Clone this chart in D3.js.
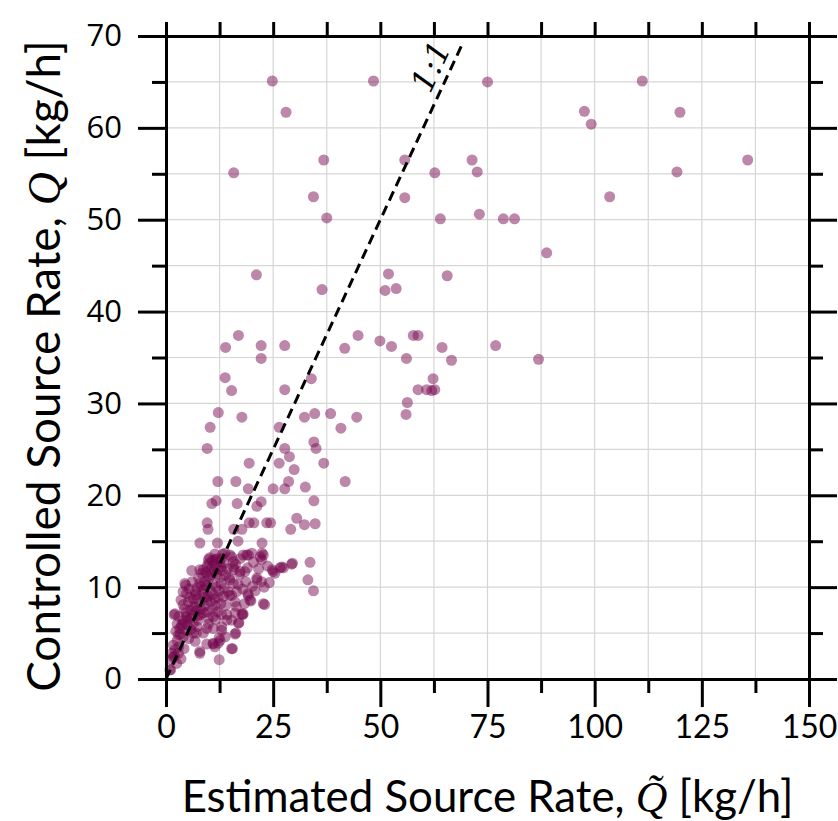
<!DOCTYPE html>
<html>
<head>
<meta charset="utf-8">
<script src="https://cdn.jsdelivr.net/npm/d3@7"></script>
<style>
  body { margin: 0; background: #fff; }
</style>
</head>
<body>
<div id="chart"></div>
<script>
// tick values
const xTicks = [0, 25, 50, 75, 100, 125, 150];
const yTicks = [0, 10, 20, 30, 40, 50, 60, 70];

// points: [estimated, controlled] in kg/h
const upperPoints = [
  [24.8,65.1],[48.4,65.1],[75.0,65.0],[111.1,65.1],[28.0,61.7],[97.6,61.8],[99.2,60.4],[119.9,61.7],
  [36.8,56.5],[55.7,56.5],[71.4,56.5],[135.7,56.5],[15.8,55.1],[62.7,55.1],[72.6,55.2],[119.2,55.2],
  [34.4,52.5],[55.7,52.4],[103.5,52.5],[37.5,50.2],[64.0,50.1],[73.1,50.6],[78.7,50.1],[81.3,50.1],
  [88.8,46.4],[21.1,44.0],[51.9,44.1],[65.6,43.9],[36.4,42.4],[51.1,42.3],[53.7,42.5],
  [16.9,37.4],[13.9,36.1],[22.2,36.3],[27.7,36.3],[41.7,36.0],[44.8,37.4],[49.9,36.8],[52.6,36.2],
  [57.7,37.4],[58.8,37.4],[64.4,36.1],[66.6,34.7],[56.1,34.9],[22.2,34.9],[76.9,36.3],[86.9,34.8]
];

const middlePoints = [
  [13.8,32.8],[15.3,31.4],[27.7,31.5],[33.9,32.7],[62.3,32.7],[58.8,31.5],[60.8,31.5],[62.0,31.4],
  [62.7,31.5],[56.3,30.1],[56.0,28.8],[12.2,29.0],[17.7,28.5],[10.3,27.4],[9.6,25.1],[32.3,28.5],
  [34.7,28.9],[38.4,28.9],[44.5,28.5],[40.8,27.3],[26.4,27.4],[34.5,25.8],[35.0,25.1],[27.7,25.1],
  [28.8,24.2],[26.4,23.5],[36.8,23.5],[29.9,22.8],[19.4,23.5],[12.1,21.5],[16.3,21.5],[41.8,21.5],
  [19.2,20.7],[25.0,20.7],[27.7,20.7],[28.6,21.5],[32.5,20.9],[34.5,19.4],[10.7,19.1],[11.7,19.4],
  [16.6,19.1],[21.2,18.8],[22.2,19.3],[9.6,17.0],[9.8,16.3],[15.8,16.3],[17.7,16.3],[19.4,17.0],
  [20.5,17.0],[23.5,17.0],[24.4,17.0],[29.1,16.3],[30.5,17.5],[32.3,16.8],[34.8,16.9],
  [7.9,14.8],[12.0,14.8],[16.8,15.0],[22.4,14.8]
];

const clusterPoints = [
  [22.4,13.7],[13.8,13.7],[33.6,12.7],[33.1,10.8],[34.4,9.6],[29.5,12.6],[27.4,12.1],[26.6,12.1],
  [24.8,11.9],[25.4,11.5],[22.9,10.0],[23.0,8.1],[21.2,11.0],[19.8,8.5],[19.1,9.3],[17.9,7.0],
  [16.9,6.1],[16.3,5.0],[15.5,3.3],[12.4,2.1],[7.9,2.8],[12.4,4.5],[11.0,3.8],[9.5,3.8],[1.1,1.0],
  [1.7,3.7],[1.9,7.0],[4.6,10.2],[4.0,9.5],[6.0,11.8],[7.9,11.9],[8.7,11.9],[9.9,13.0],[22.7,13.5],
  [20.0,13.7],[18.8,13.5],[17.3,13.1],[15.9,11.9],[14.9,13.5],[14.8,9.1],[13.4,9.0],[17.7,7.1],
  [14.2,6.4],[13.0,5.7],[11.4,13.0],[8.3,11.5],[4.4,10.4],[4.8,9.3],[7.9,10.4],[6.8,9.5],[9.5,8.6],
  [4.0,8.1],[6.4,7.9],[15.3,13.3],[18.0,13.5],[19.2,13.5],[22.0,13.3],[22.3,13.0],[15.7,12.8],
  [25.0,11.7],[27.0,12.2],[29.3,12.5],[17.3,11.7],[18.4,11.7],[15.7,12.2],[21.2,10.8],[22.3,10.6],
  [14.9,10.8],[15.7,10.4],[16.5,9.5],[19.2,9.1],[19.6,8.6],[22.7,8.2],[15.3,9.1],[16.1,8.4],
  [2.1,7.1],[4.8,6.8],[4.0,6.4],[5.6,6.6],[8.7,7.2],[9.9,6.6],[11.0,6.8],[13.0,7.0],[14.2,7.0],
  [9.5,5.5],[11.0,5.5],[8.7,5.0],[13.0,5.3],[13.8,4.6],[12.6,4.2],[12.2,3.9],[11.0,3.9],[11.4,3.5],
  [7.9,3.0],[2.1,3.2],[2.9,2.8],[1.7,2.4],[1.3,2.1],[2.5,1.7],[0.9,1.0],[2.9,4.8],[4.0,4.6],[4.8,5.3],
  [6.4,5.0],[7.2,5.7],[6.4,6.1],[7.5,6.4],[16.1,7.2],[18.0,7.1],[17.0,6.1],[15.3,6.4],[16.1,4.9],
  [15.3,3.3],[10.2,13.2],[10.8,12.9],[11.9,13.1],[12.5,12.8],[11.3,12.4],[12.8,12.2],[13.5,12.6],
  [10.5,12.0],[9.3,11.6],[11.8,11.4],[12.6,11.0],[13.9,11.3],[14.3,12.0],[10.0,10.9],[9.0,10.6],
  [10.9,10.3],[11.7,10.0],[12.9,10.4],[13.6,9.9],[8.2,10.1],[7.2,9.9],[6.1,10.6],[5.4,9.8],[7.0,9.2],
  [8.6,9.3],[9.8,9.0],[11.0,9.2],[12.2,8.9],[6.4,8.7],[5.2,8.4],[7.8,8.3],[9.0,8.0],[10.4,8.4],
  [11.5,8.0],[12.8,8.2],[13.9,8.0],[3.5,8.6],[4.3,7.6],[5.8,7.5],[7.0,7.4],[8.3,7.6],[9.6,7.3],
  [10.8,7.6],[12.0,7.3],[3.0,6.8],[6.2,6.9],[7.5,6.9],[11.6,6.5],[2.6,6.0],[3.6,5.8],[4.9,5.9],
  [5.8,5.4],[7.1,5.0],[9.9,6.0],[2.3,5.2],[3.3,4.9],[5.3,4.4],[6.8,4.1],[2.6,4.2],[1.3,2.8],[3.0,3.5],
  [4.2,3.3],[2.0,2.5],[3.5,2.2],[8.9,9.8],[7.6,11.0],[9.6,12.3],[13.2,13.6],[11.4,13.6],[14.8,11.0],
  [14.5,9.5],[16.8,10.3],[17.9,9.8],[18.6,10.6],[20.2,10.1],[16.2,12.5],[19.0,12.1],[20.4,12.7],
  [21.6,12.0],[23.7,12.3],[24.1,10.5],[16.4,7.9],[18.3,8.2],[20.8,9.6],[17.2,11.4],
  [10.6,11.4],[11.2,11.8],[12.1,12.0],[9.8,11.2],[10.3,9.6],[11.3,8.7],[8.9,8.9],[9.4,10.2],
  [12.4,9.6],[13.1,11.8],[7.4,8.8],[6.7,7.8],[5.6,8.9],[8.0,7.0],[4.7,7.2],[3.9,6.0],[5.1,6.4],
  [3.2,5.5],[12.9,13.1],[10.0,12.6]
];

// 1:1 reference line end points
const oneToOne = [[0, 0], [69, 69]];

const W = 838, H = 821;
const margin = { top: 36, right: 29, bottom: 142, left: 166 };
const width = W - margin.left - margin.right;   // 643
const height = H - margin.top - margin.bottom;  // 643

const svg = d3.select("#chart").append("svg")
    .attr("width", W)
    .attr("height", H);

const g = svg.append("g")
    .attr("transform", `translate(${margin.left},${margin.top})`);

const x = d3.scaleLinear().domain([0, 150]).range([0, width]);
const y = d3.scaleLinear().domain([0, 70]).range([height, 0]);

const xAll = d3.range(0, 150.1, 12.5);
const yAll = d3.range(0, 70.1, 5);
const xMinor = xAll.filter(v => !xTicks.includes(v));
const yMinor = yAll.filter(v => !yTicks.includes(v));

// grid
g.append("g").selectAll("line")
    .data(xAll)
    .join("line")
    .attr("x1", d => x(d)).attr("x2", d => x(d))
    .attr("y1", 0).attr("y2", height)
    .attr("stroke", "#d6d6d6").attr("stroke-width", 1.2);
g.append("g").selectAll("line")
    .data(yAll)
    .join("line")
    .attr("y1", d => y(d)).attr("y2", d => y(d))
    .attr("x1", 0).attr("x2", width)
    .attr("stroke", "#d6d6d6").attr("stroke-width", 1.2);

// points
const allPoints = upperPoints.concat(middlePoints, clusterPoints);
g.append("g").selectAll("circle")
    .data(allPoints)
    .join("circle")
    .attr("cx", d => x(d[0]))
    .attr("cy", d => y(d[1]))
    .attr("r", 5.5)
    .attr("fill", "#73054b")
    .attr("fill-opacity", 0.48);

// 1:1 line
g.append("path")
    .datum(oneToOne)
    .attr("d", d3.line().x(d => x(d[0])).y(d => y(d[1])))
    .attr("stroke", "#000")
    .attr("stroke-width", 3)
    .attr("stroke-dasharray", "10,6")
    .attr("fill", "none");

// 1:1 label, rotated along the line
const ang = Math.atan2(y(0) - y(1), x(1) - x(0)) * 180 / Math.PI;
g.append("text")
    .attr("transform", `translate(${x(65.8)},${y(65.8)}) rotate(${-ang})`)
    .attr("y", -8)
    .attr("text-anchor", "middle")
    .style("font-family", "'DejaVu Serif', serif")
    .style("font-style", "italic")
    .style("font-size", "32px")
    .text("1:1");

// axes
function styleAxis(sel) {
  sel.selectAll(".domain").attr("stroke", "#000").attr("stroke-width", 3);
  sel.selectAll(".tick line").attr("stroke", "#000").attr("stroke-width", 3);
}

const xAxis = g.append("g")
    .attr("transform", `translate(0,${height})`)
    .call(d3.axisBottom(x).tickValues(xTicks).tickSize(28).tickSizeOuter(0).tickPadding(8))
    .call(styleAxis);
xAxis.selectAll("text")
    .style("font-family", "Lato, sans-serif")
    .style("font-size", "32px")
    .attr("fill", "#000");

g.append("g")
    .attr("transform", `translate(0,${height})`)
    .call(d3.axisBottom(x).tickValues(xMinor).tickSize(14).tickSizeOuter(0).tickFormat(""))
    .call(styleAxis);

g.append("g")
    .call(d3.axisTop(x).tickValues(xAll).tickSize(14).tickSizeOuter(0).tickFormat(""))
    .call(styleAxis);

const yAxis = g.append("g")
    .call(d3.axisLeft(y).tickValues(yTicks).tickSize(28).tickSizeOuter(0).tickPadding(16))
    .call(styleAxis);
yAxis.selectAll("text")
    .style("font-family", "'Open Sans', sans-serif")
    .style("font-size", "31px")
    .attr("fill", "#000");

g.append("g")
    .call(d3.axisLeft(y).tickValues(yMinor).tickSize(14).tickSizeOuter(0).tickFormat(""))
    .call(styleAxis);

g.append("g")
    .attr("transform", `translate(${width},0)`)
    .call(d3.axisRight(y).tickValues(yTicks).tickSize(28).tickSizeOuter(0).tickFormat(""))
    .call(styleAxis);
g.append("g")
    .attr("transform", `translate(${width},0)`)
    .call(d3.axisRight(y).tickValues(yMinor).tickSize(14).tickSizeOuter(0).tickFormat(""))
    .call(styleAxis);

// axis titles
function fitWidth(text, target) {
  const w = text.node().getComputedTextLength();
  const fs = parseFloat(text.style("font-size"));
  text.style("font-size", (fs * target / w) + "px");
}

const xTitle = svg.append("text")
    .attr("x", margin.left + width / 2)
    .attr("y", 812)
    .attr("text-anchor", "middle")
    .style("font-family", "Lato, sans-serif")
    .style("font-size", "40px");
xTitle.append("tspan").text("Estimated Source Rate, ");
xTitle.append("tspan")
    .style("font-family", "'Liberation Serif', serif")
    .style("font-style", "italic")
    .text("Q\u0303");
xTitle.append("tspan").text(" [kg/h]");
fitWidth(xTitle, 612);

const yTitle = svg.append("text")
    .attr("transform", `translate(60,${366}) rotate(-90)`)
    .attr("text-anchor", "middle")
    .style("font-family", "Lato, sans-serif")
    .style("font-size", "40px");
yTitle.append("tspan").text("Controlled Source Rate, ");
yTitle.append("tspan")
    .style("font-family", "'Liberation Serif', serif")
    .style("font-style", "italic")
    .text("Q");
yTitle.append("tspan").text(" [kg/h]");
fitWidth(yTitle, 652);
</script>
</body>
</html>
